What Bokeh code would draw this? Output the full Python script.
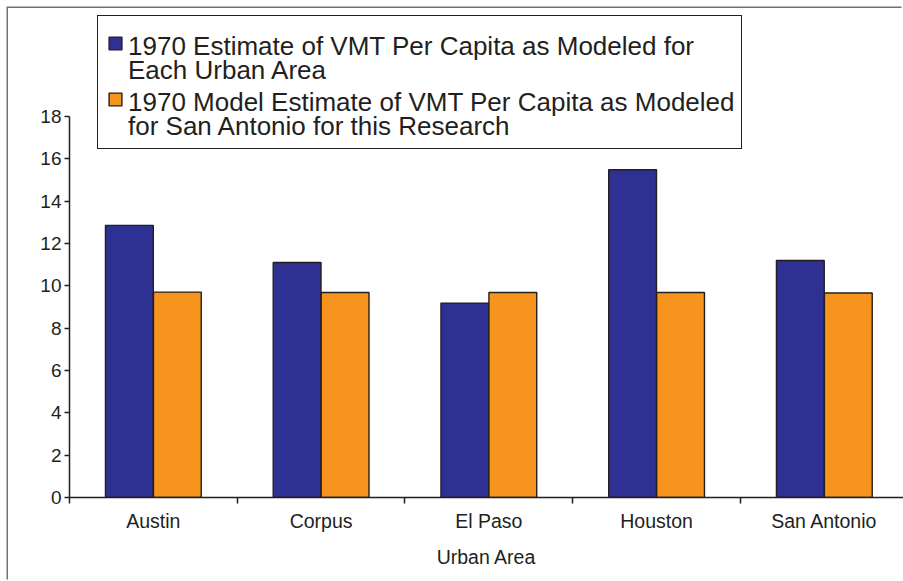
from bokeh.plotting import figure
from bokeh.models import ColumnDataSource, FixedTicker, Legend, LegendItem, Range1d
from bokeh.embed import file_html
from bokeh.resources import INLINE

categories = ["Austin", "Corpus", "El Paso", "Houston", "San Antonio"]
each_area = [12.85, 11.1, 9.18, 15.48, 11.19]
san_antonio_model = [9.7, 9.68, 9.68, 9.68, 9.66]
y_ticks = [0, 2, 4, 6, 8, 10, 12, 14, 16, 18]
series_first_lines = ["1970 Estimate of VMT Per Capita as Modeled for",
                      "1970 Model Estimate of VMT Per Capita as Modeled"]
series_second_lines = ["Each Urban Area",
                       "for San Antonio for this Research"]

BLUE = "#2e3192"
ORANGE = "#f7941d"
INK = "#231f20"
FONT = "Liberation Sans"

bar_w = 0.285
offset = 0.143
centers = [i + 0.5 for i in range(len(categories))]

src = ColumnDataSource(dict(
    x1=[c - offset for c in centers],
    x2=[c + offset for c in centers],
    v1=each_area,
    v2=san_antonio_model,
))

p = figure(width=895, height=573, output_backend="svg", toolbar_location=None,
           x_range=Range1d(0, 4.972), y_range=Range1d(0, 23),
           min_border_left=61, min_border_right=0, min_border_top=2,
           min_border_bottom=84)
p.outline_line_color = None
p.xgrid.grid_line_color = None
p.ygrid.grid_line_color = None
p.background_fill_color = "white"
p.border_fill_color = "white"
p.styles = {"margin-left": "8px", "margin-top": "8px",
            "box-shadow": "-1.5px -1.5px 0 0 #707070"}

r1 = p.vbar(x="x1", top="v1", width=bar_w, source=src, fill_color=BLUE,
            line_color=INK, line_width=1.4)
r2 = p.vbar(x="x2", top="v2", width=bar_w, source=src, fill_color=ORANGE,
            line_color=INK, line_width=1.4)
# empty, invisible renderer: lets text-only legend rows reserve the swatch column
blank = p.vbar(x=[], top=[], width=bar_w, fill_alpha=0, line_alpha=0)

# x axis
xa = p.xaxis[0]
xa.ticker = FixedTicker(ticks=centers, minor_ticks=list(range(len(categories) + 1)))
xa.major_label_overrides = {c: categories[i] for i, c in enumerate(centers)}
xa.major_tick_line_color = None
xa.major_tick_in = 0
xa.major_tick_out = 6
xa.minor_tick_in = 0
xa.minor_tick_out = 6
xa.minor_tick_line_color = INK
xa.minor_tick_line_width = 1.5
xa.axis_line_color = INK
xa.axis_line_width = 1.5
xa.major_label_text_font = FONT
xa.major_label_text_font_size = "19.5px"
xa.major_label_text_color = INK
xa.major_label_standoff = 6
xa.axis_label = "Urban Area"
xa.axis_label_text_font = FONT
xa.axis_label_text_font_size = "19.5px"
xa.axis_label_text_font_style = "normal"
xa.axis_label_text_color = INK
xa.axis_label_standoff = 11

# y axis
ya = p.yaxis[0]
ya.ticker = FixedTicker(ticks=y_ticks, minor_ticks=[])
ya.bounds = (0, 18)
ya.major_tick_in = 0
ya.major_tick_out = 5
ya.major_tick_line_color = INK
ya.major_tick_line_width = 1.5
ya.axis_line_color = INK
ya.axis_line_width = 1.5
ya.major_label_text_font = FONT
ya.major_label_text_font_size = "19px"
ya.major_label_text_color = INK
ya.major_label_standoff = 3

# legend frame (box with white background)
box_legend = Legend(
    items=[LegendItem(label="", renderers=[blank])],
    location=(28, 348),
    margin=0, padding=0, spacing=0,
    glyph_width=1, glyph_height=1, label_standoff=0,
    label_width=642, label_height=132,
    label_text_font_size="1px",
    border_line_color=INK, border_line_width=1.5, border_line_alpha=1.0,
    background_fill_color="white", background_fill_alpha=1.0,
)
p.add_layout(box_legend, "center")

def text_rows(labels, y):
    return Legend(
        items=[LegendItem(label=t, renderers=[blank]) for t in labels],
        location=(38, y),
        margin=0, padding=0, spacing=25,
        glyph_width=16, glyph_height=16, label_standoff=5,
        label_text_font=FONT, label_text_font_size="26px",
        label_text_color=INK,
        border_line_color=None, background_fill_alpha=0.0,
    )

p.add_layout(text_rows(series_first_lines, 379), "center")
p.add_layout(text_rows(series_second_lines, 355), "center")

# swatches, aligned with the first line of each label
swatch_legend = Legend(
    items=[LegendItem(label="", renderers=[r1]),
           LegendItem(label="", renderers=[r2])],
    location=(38, 390),
    margin=0, padding=0, spacing=40,
    glyph_width=16, glyph_height=16,
    label_standoff=0, label_width=0, label_height=16,
    label_text_font_size="1px",
    border_line_color=None, background_fill_alpha=0.0,
)
p.add_layout(swatch_legend, "center")

open("out.html", "w").write(file_html(p, INLINE))
